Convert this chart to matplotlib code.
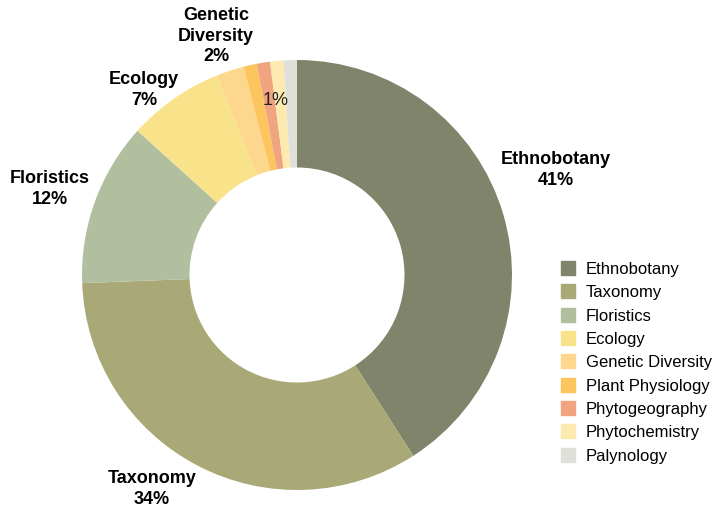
import matplotlib.pyplot as plt
from matplotlib.lines import Line2D

plt.rcParams['font.family'] = ['Liberation Sans', 'DejaVu Sans']

# data (share of studies, %)
categories = ["Ethnobotany", "Taxonomy", "Floristics", "Ecology", "Genetic Diversity",
              "Plant Physiology", "Phytogeography", "Phytochemistry", "Palynology"]
shares = [40.9, 33.5, 12.3, 7.2, 2.1, 1.0, 1.0, 1.0, 1.0]
colors = ["#7f846a", "#a9a877", "#b1bf9f", "#f9e38a", "#fdd78e",
          "#fcc55d", "#f0a47f", "#fdeab0", "#dfe0da"]

fig = plt.figure(figsize=(7.18, 5.12), dpi=100)
ax = fig.add_axes([0.1142, 0.043, 0.5989, 0.8398])

ax.pie(shares, colors=colors, startangle=90, counterclock=False,
       wedgeprops=dict(width=0.5, linewidth=0))
ax.set_xlim(-1, 1)
ax.set_ylim(-1, 1)
ax.set_aspect("equal")

# labels (pixel positions converted to data units, r=215px)
def px(x, y):
    return (x - 297) / 215, (275 - y) / 215

lab_kw = dict(ha="center", va="center", fontsize=13, fontweight="bold",
              linespacing=1.25, color="black")
ax.text(*px(556, 170), "Ethnobotany\n41%", **lab_kw)
ax.text(*px(152, 489), "Taxonomy\n34%", **lab_kw)
ax.text(*px(50, 189), "Floristics\n12%", **lab_kw)
ax.text(*px(144, 90), "Ecology\n7%", **lab_kw)
ax.text(*px(216, 36), "Genetic\nDiversity\n2%", **lab_kw)
ax.text(*px(276, 100), "1%", ha="center", va="center", fontsize=13, color="#222222")

handles = [Line2D([], [], marker="s", linestyle="", markersize=9.5,
                  markerfacecolor=c, markeredgecolor=c) for c in colors]
fig.legend(handles, categories, loc="upper left", bbox_to_anchor=(0.779, 0.4885),
           frameon=False, fontsize=12, handletextpad=0.6, labelspacing=0.5,
           handlelength=1.0, borderaxespad=0, borderpad=0)

fig.savefig("out.png", dpi=100)
